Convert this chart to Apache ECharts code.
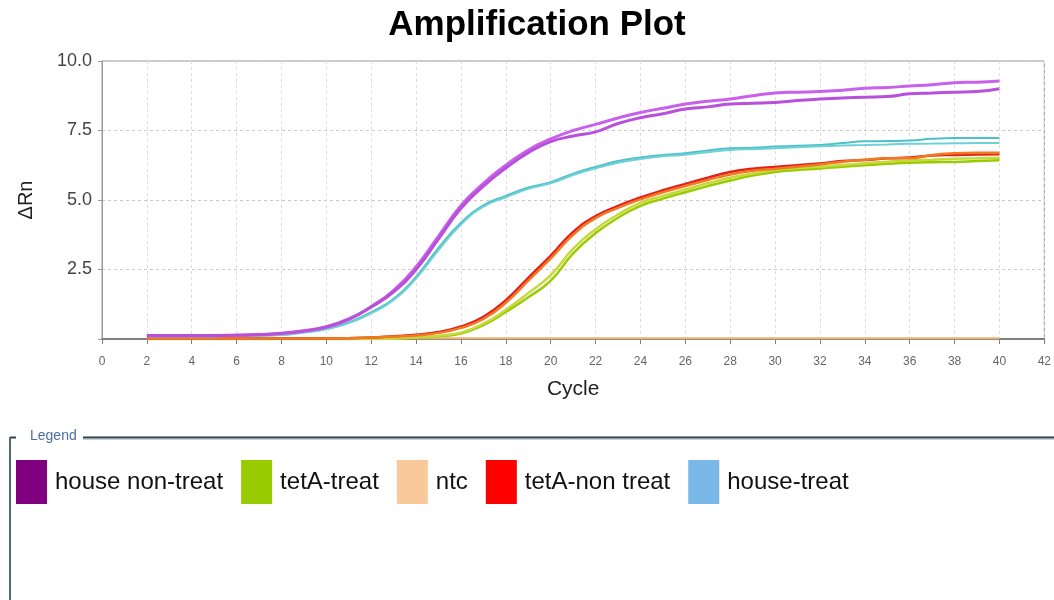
<!DOCTYPE html>
<html>
<head>
<meta charset="utf-8">
<script src="https://cdn.jsdelivr.net/npm/echarts@6/dist/echarts.min.js"></script>
<style>
html,body{margin:0;padding:0;background:#fff;}
#chart{width:1054px;height:600px;}
</style>
</head>
<body>
<div id="chart"></div>
<script>
// Cycles
var cycles = [2,3,4,5,6,7,8,9,10,11,12,13,14,15,16,17,18,19,20,21,22,23,24,25,26,27,28,29,30,31,32,33,34,35,36,37,38,39,40];
// house non-treat (2 replicates)
var houseNonTreatA = [0.12,0.12,0.12,0.12,0.13,0.15,0.2,0.28,0.42,0.7,1.17,1.75,2.6,3.7,4.8,5.6,6.25,6.8,7.2,7.5,7.72,7.95,8.15,8.3,8.45,8.55,8.63,8.75,8.85,8.88,8.9,8.95,9.02,9.05,9.1,9.15,9.22,9.24,9.28];
var houseNonTreatB = [0.13,0.13,0.13,0.13,0.14,0.16,0.21,0.3,0.44,0.72,1.15,1.7,2.5,3.6,4.7,5.5,6.15,6.7,7.1,7.3,7.45,7.75,7.96,8.1,8.27,8.35,8.45,8.48,8.51,8.58,8.63,8.67,8.7,8.72,8.82,8.85,8.88,8.9,9.0];
// house-treat (2 replicates)
var houseTreatA = [0.1,0.1,0.1,0.1,0.11,0.12,0.15,0.25,0.37,0.6,0.97,1.45,2.24,3.28,4.18,4.81,5.15,5.45,5.64,5.95,6.19,6.4,6.53,6.62,6.68,6.78,6.86,6.88,6.92,6.95,6.98,7.05,7.11,7.12,7.14,7.2,7.23,7.23,7.23];
var houseTreatB = [0.1,0.1,0.1,0.1,0.11,0.12,0.14,0.23,0.35,0.57,0.93,1.4,2.18,3.2,4.12,4.76,5.1,5.4,5.6,5.9,6.14,6.34,6.47,6.57,6.63,6.72,6.8,6.83,6.86,6.9,6.93,6.96,6.98,7.0,7.02,7.03,7.04,7.05,7.05];
// tetA-non treat (2 replicates)
var tetANonTreatA = [0.02,0.02,0.02,0.02,0.02,0.02,0.02,0.02,0.02,0.03,0.05,0.1,0.15,0.25,0.45,0.8,1.4,2.2,3.0,3.85,4.42,4.79,5.09,5.35,5.58,5.8,6.01,6.12,6.19,6.25,6.31,6.4,6.44,6.5,6.53,6.6,6.62,6.64,6.65];
var tetANonTreatB = [0.02,0.02,0.02,0.02,0.02,0.02,0.02,0.02,0.02,0.03,0.05,0.09,0.13,0.22,0.4,0.72,1.3,2.1,2.9,3.75,4.35,4.72,5.02,5.28,5.5,5.72,5.92,6.05,6.12,6.2,6.28,6.38,6.45,6.5,6.5,6.62,6.68,6.7,6.7];
// tetA-treat (2 replicates)
var tetATreatA = [0.0,0.0,0.0,0.0,0.0,0.0,0.0,0.0,0.0,0.0,0.0,0.02,0.05,0.1,0.2,0.5,0.97,1.5,2.1,3.08,3.81,4.36,4.79,5.05,5.28,5.5,5.7,5.88,6.01,6.08,6.13,6.2,6.25,6.3,6.34,6.36,6.37,6.4,6.43];
var tetATreatB = [0.0,0.0,0.0,0.0,0.0,0.0,0.0,0.0,0.0,0.0,0.0,0.02,0.06,0.12,0.23,0.55,1.05,1.65,2.3,3.25,3.95,4.48,4.9,5.15,5.38,5.6,5.8,5.95,6.08,6.15,6.2,6.26,6.32,6.38,6.42,6.45,6.48,6.5,6.52];
// ntc
var ntc = [0.03,0.03,0.03,0.03,0.03,0.03,0.03,0.03,0.03,0.03,0.03,0.03,0.03,0.03,0.03,0.03,0.03,0.03,0.03,0.03,0.03,0.03,0.03,0.03,0.03,0.03,0.03,0.03,0.03,0.03,0.03,0.03,0.03,0.03,0.03,0.03,0.03,0.03,0.03];

var legendNames = ['house non-treat','tetA-treat','ntc','tetA-non treat','house-treat'];
var legendColors = ['#800080','#99cc00','#f9c89b','#ff0000','#7ab8e8'];

function pairs(vals){ return cycles.map(function(c,i){ return [c, vals[i]]; }); }
function line(name, vals, color, w){
  return {
    name: name, type: 'line', data: pairs(vals), showSymbol: false, smooth: true,
    lineStyle: { color: color, width: w }, itemStyle: { color: color }, z: 3
  };
}

var chart = echarts.init(document.getElementById('chart'), null, {renderer:'canvas'});
chart.setOption({
  backgroundColor: '#ffffff',
  animation: false,
  title: {
    text: 'Amplification Plot', left: 532, top: 3, textAlign: 'center',
    textStyle: { fontFamily: 'Liberation Sans, Arial, sans-serif', fontWeight: 'bold', fontSize: 35, color: '#000' }
  },
  grid: { left: 102, right: 9, top: 61, bottom: 261, show: true, borderColor: '#9a9a9a', borderWidth: 1, backgroundColor: '#fff' },
  xAxis: {
    type: 'value', min: 0, max: 42, interval: 2,
    name: 'Cycle', nameLocation: 'middle', nameGap: 40,
    nameTextStyle: { fontFamily: 'Liberation Sans, Arial, sans-serif', fontSize: 21, color: '#222' },
    axisLine: { show: true, onZero: false, lineStyle: { color: '#808080', width: 2 } },
    axisTick: { show: true, length: 5, lineStyle: { color: '#808080' } },
    axisLabel: { fontFamily: 'Liberation Sans, Arial, sans-serif', fontSize: 12, color: '#666', margin: 17 },
    splitLine: { show: true, lineStyle: { color: '#dcdcdc', type: [3,3] } }
  },
  yAxis: {
    type: 'value', min: 0, max: 10, interval: 2.5,
    name: 'ΔRn', nameLocation: 'middle', nameGap: 66, nameRotate: 90,
    nameTextStyle: { fontFamily: 'Liberation Sans, Arial, sans-serif', fontSize: 20, color: '#222' },
    axisLine: { show: true, lineStyle: { color: '#9a9a9a' } },
    axisTick: { show: true, length: 4, lineStyle: { color: '#9a9a9a' } },
    axisLabel: {
      fontFamily: 'Liberation Sans, Arial, sans-serif', fontSize: 18, color: '#444', margin: 10,
      formatter: function(v){ return v === 0 ? '' : v.toFixed(1); }
    },
    splitLine: { show: true, lineStyle: { color: '#c8c8c8', type: [3,3] } }
  },
  legend: {
    left: 11, top: 455, orient: 'horizontal',
    itemWidth: 31, itemHeight: 44, itemGap: 18, icon: 'rect',
    textStyle: { fontFamily: 'Liberation Sans, Arial, sans-serif', fontSize: 24, color: '#111', padding: [0,0,0,3] },
    data: legendNames.map(function(n,i){ return { name: n, icon: 'rect', itemStyle: { color: legendColors[i], borderWidth: 0 } }; })
  },
  graphic: [
    { type: 'line', shape: { x1: 10, y1: 437.5, x2: 16, y2: 437.5 }, style: { stroke: '#2e3e4e', lineWidth: 2 } },
    { type: 'line', shape: { x1: 83, y1: 437.5, x2: 1054, y2: 437.5 }, style: { stroke: '#2e3e4e', lineWidth: 2 } },
    { type: 'line', shape: { x1: 83, y1: 439.5, x2: 1054, y2: 439.5 }, style: { stroke: '#b8d4e4', lineWidth: 1 } },
    { type: 'line', shape: { x1: 10, y1: 437, x2: 10, y2: 600 }, style: { stroke: '#506878', lineWidth: 2 } },
    { type: 'text', left: 30, top: 429, style: { text: 'Legend', fontFamily: 'Liberation Sans, Arial, sans-serif', fontSize: 14, fill: '#4a6fa5' } }
  ],
  series: [
    line('ntc', ntc, '#f5b070', 2),
    line('tetA-treat', tetATreatA, '#99cc00', 2.5),
    line('tetA-treat', tetATreatB, '#c6d83a', 2.5),
    line('tetA-non treat', tetANonTreatA, '#e51e1e', 2.5),
    line('tetA-non treat', tetANonTreatB, '#f07a20', 2.5),
    line('house-treat', houseTreatA, '#4cc2c8', 2),
    line('house-treat', houseTreatB, '#6fd0d6', 2),
    line('house non-treat', houseNonTreatA, '#c860ec', 3),
    line('house non-treat', houseNonTreatB, '#b850dc', 3)
  ]
});
</script>
</body>
</html>
